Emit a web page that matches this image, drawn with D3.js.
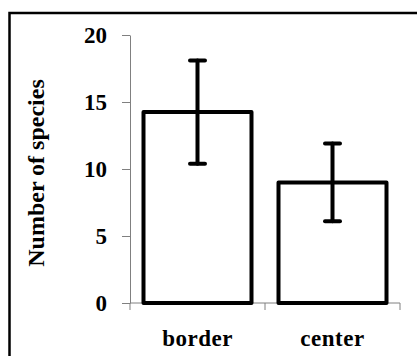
<!DOCTYPE html>
<html>
<head>
<meta charset="utf-8">
<script src="https://cdn.jsdelivr.net/npm/d3@7"></script>
<style>
  html, body { margin: 0; padding: 0; background: #fff; }
  svg { display: block; }
  text { font-family: "Liberation Serif", "Times New Roman", serif; font-weight: bold; fill: #000; }
</style>
</head>
<body>
<svg id="chart" width="417" height="356"></svg>
<script>
const categories = ["border", "center"];
const means = [14.25, 9.0];
const errors = [3.85, 2.9];
const yTicks = [0, 5, 10, 15, 20];
const yLabel = "Number of species";

const svg = d3.select("#chart");

// outer frame (extends beyond the right/bottom edges)
svg.append("rect")
  .attr("x", 9.5).attr("y", 13)
  .attr("width", 500).attr("height", 500)
  .attr("fill", "none").attr("stroke", "#000").attr("stroke-width", 2.5);

const y = d3.scaleLinear().domain([0, 20]).range([303, 35]);
const x = d3.scaleBand().domain(categories).range([130, 400]).padding(0);
const barW = x.bandwidth() * 0.8;

// y axis
const yAxis = svg.append("g").attr("transform", "translate(130,0)")
  .call(d3.axisLeft(y).tickValues(yTicks).tickSize(8).tickSizeOuter(0).tickPadding(15));
yAxis.select(".domain").attr("stroke", "#808080").attr("stroke-width", 1);
yAxis.selectAll(".tick line").attr("stroke", "#808080").attr("stroke-width", 1);
yAxis.selectAll(".tick text")
  .style("font-family", "'Liberation Serif', 'Times New Roman', serif")
  .style("font-weight", "bold").style("font-size", "23px").attr("fill", "#000");

// x axis line + ticks between categories
const xr = x.range();
svg.append("line")
  .attr("x1", xr[0]).attr("x2", xr[1]).attr("y1", y(0)).attr("y2", y(0))
  .attr("stroke", "#808080").attr("stroke-width", 1);
const bounds = categories.map(c => x(c)).concat([xr[1]]);
svg.selectAll(".xtick").data(bounds).enter().append("line")
  .attr("x1", d => d).attr("x2", d => d)
  .attr("y1", y(0)).attr("y2", y(0) + 7)
  .attr("stroke", "#808080").attr("stroke-width", 1);

// bars
svg.selectAll(".bar").data(categories).enter().append("rect")
  .attr("x", d => x(d) + (x.bandwidth() - barW) / 2)
  .attr("y", (d, i) => y(means[i]))
  .attr("width", barW)
  .attr("height", (d, i) => y(0) - y(means[i]))
  .attr("fill", "#fff").attr("stroke", "#000").attr("stroke-width", 4)
  .attr("stroke-linejoin", "round");

// error bars
const capW = 15;
categories.forEach((c, i) => {
  const cx = x(c) + x.bandwidth() / 2;
  const hi = y(means[i] + errors[i]);
  const lo = y(means[i] - errors[i]);
  const g = svg.append("g").attr("stroke", "#000").attr("stroke-width", 4).attr("stroke-linecap", "round");
  g.append("line").attr("x1", cx).attr("x2", cx).attr("y1", hi).attr("y2", lo);
  g.append("line").attr("x1", cx - capW / 2).attr("x2", cx + capW / 2).attr("y1", hi).attr("y2", hi);
  g.append("line").attr("x1", cx - capW / 2).attr("x2", cx + capW / 2).attr("y1", lo).attr("y2", lo);
});

// category labels
svg.selectAll(".xlab").data(categories).enter().append("text")
  .attr("x", d => x(d) + x.bandwidth() / 2)
  .attr("y", 346)
  .attr("text-anchor", "middle")
  .style("font-size", "23px")
  .style("letter-spacing", "0.5px")
  .text(d => d);

// y label
svg.append("text")
  .attr("transform", `translate(44,173) rotate(-90)`)
  .attr("text-anchor", "middle")
  .style("font-size", "24px")
  .text(yLabel);
</script>
</body>
</html>
